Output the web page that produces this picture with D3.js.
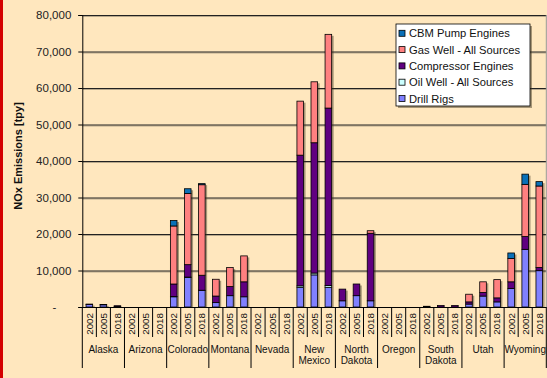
<!DOCTYPE html>
<html><head><meta charset="utf-8">
<script src="https://cdn.jsdelivr.net/npm/d3@7"></script>
<style>
html,body{margin:0;padding:0;background:#FFE7BE;}
svg{display:block;font-family:Arial,"Liberation Sans",sans-serif;}
</style></head>
<body>
<svg id="c" width="547" height="378"></svg>
<script>
const states = ["Alaska","Arizona","Colorado","Montana","Nevada","New Mexico","North Dakota","Oregon","South Dakota","Utah","Wyoming"];
const stateLines = [["Alaska"],["Arizona"],["Colorado"],["Montana"],["Nevada"],["New","Mexico"],["North","Dakota"],["Oregon"],["South","Dakota"],["Utah"],["Wyoming"]];
const years = ["2002","2005","2018"];
const yTicks = [0,10000,20000,30000,40000,50000,60000,70000,80000];
const seriesNames = ["Drill Rigs","Oil Well - All Sources","Compressor Engines","Gas Well - All Sources","CBM Pump Engines"];
const seriesColors = ["#8080FF","#CCFFFF","#600080","#FF8080","#0A70B8"];
// values in state-major order: each state 2002, 2005, 2018
const drillRigs  = [700,600,100, 0,0,0, 2800,8100,4500, 1200,3100,2800, 0,0,0, 5400,8800,5400, 1700,3100,1700, 0,0,0, 0,0,0, 800,3000,1400, 5100,15800,9950];
const oilWell    = [0,0,0, 0,0,0, 100,100,100, 0,0,0, 0,0,0, 400,500,500, 0,0,0, 0,0,0, 0,0,0, 0,0,0, 0,0,0];
const compressor = [100,100,250, 0,0,0, 3400,3400,4100, 1800,2500,4100, 0,0,0, 35800,35700,48600, 3200,3200,18500, 0,0,0, 200,400,400, 600,1000,1100, 1800,3500,900];
const gasWell    = [0,0,0, 0,0,0, 15900,19500,24800, 4600,5200,7100, 0,0,0, 14800,16700,20200, 0,0,700, 0,0,0, 0,0,0, 2100,2900,5000, 6400,14300,22300];
const cbmPump    = [0,0,0, 0,0,0, 1500,1300,300, 0,0,0, 0,0,0, 0,0,0, 0,0,0, 0,0,0, 0,0,0, 0,0,0, 1500,2800,1200];

const seriesValues = [drillRigs, oilWell, compressor, gasWell, cbmPump];
const keys = [];
states.forEach(s => years.forEach(y => keys.push(s + "|" + y)));
const rows = keys.map((k, i) => {
  const r = {key: k};
  seriesNames.forEach((n, j) => r[n] = seriesValues[j][i]);
  return r;
});

const svg = d3.select("#c");
const L = 82.3, R = 546.3, T = 15, B = 307;
svg.append("rect").attr("x",0).attr("y",0).attr("width",547).attr("height",378).attr("fill","#FFE7BE");
svg.append("rect").attr("x",0).attr("y",0).attr("width",3).attr("height",378).attr("fill","#D40000");

const x = d3.scaleBand().domain(keys).range([L, R]).paddingInner(0.53).paddingOuter(0.265);
const y = d3.scaleLinear().domain([0, 80000]).range([B, T]);

// gridlines
const grid = svg.append("g");
yTicks.filter(d => d > 0).forEach(d => {
  grid.append("line").attr("x1",L).attr("x2",R).attr("y1",y(d)+1.5).attr("y2",y(d)+1.5).attr("stroke","#b9a98c").attr("stroke-width",1);
  grid.append("line").attr("x1",L).attr("x2",R).attr("y1",y(d)+0.5).attr("y2",y(d)+0.5).attr("stroke","#222").attr("stroke-width",1);
});
svg.append("line").attr("x1",R).attr("x2",R).attr("y1",T).attr("y2",B).attr("stroke","#999").attr("stroke-width",1);

// bars
const stack = d3.stack().keys(seriesNames);
const stacked = stack(rows);
const bw = x.bandwidth();
const total = r => seriesNames.reduce((a,n)=>a+r[n],0);
// shadows
svg.append("g").selectAll("rect").data(rows.filter(r => total(r) > 0)).join("rect")
  .attr("x", r => x(r.key) + 2)
  .attr("y", r => y(total(r)) + 1.5)
  .attr("width", bw)
  .attr("height", r => B - y(total(r)) - 1.5)
  .attr("fill", "rgba(60,50,30,0.45)");
const barG = svg.append("g");
stacked.forEach((s, i) => {
  barG.append("g").selectAll("rect").data(s.filter(d => d[1] - d[0] > 0)).join("rect")
    .attr("x", d => x(d.data.key))
    .attr("y", d => y(d[1]))
    .attr("width", bw)
    .attr("height", d => y(d[0]) - y(d[1]))
    .attr("fill", seriesColors[i])
    .attr("stroke", "#000")
    .attr("stroke-width", 0.8);
});

// y axis
const yAxis = d3.axisLeft(y).tickValues(yTicks).tickSize(4).tickPadding(7)
  .tickFormat(d => d === 0 ? "-" : d3.format(",")(d));
const ya = svg.append("g").attr("transform", `translate(${L},0)`).call(yAxis);
ya.select(".domain").attr("stroke","#000");
ya.selectAll(".tick line").attr("stroke","#000");
ya.selectAll(".tick text").attr("font-size", 11.5).attr("fill","#222").attr("font-family","Arial,'Liberation Sans',sans-serif");
ya.selectAll(".tick text").filter(d => d === 0).attr("x", -26);

// x axis line
svg.append("line").attr("x1",L).attr("x2",R).attr("y1",B+0.5).attr("y2",B+0.5).attr("stroke","#000");
const step = x.step();
const xg = svg.append("g");
keys.forEach((k, i) => {
  const xb = L + i * step;
  const isState = i % 3 === 0;
  xg.append("line").attr("x1",xb).attr("x2",xb).attr("y1",B).attr("y2", isState ? 368 : 337).attr("stroke","#000");
  const cx = x(k) + bw / 2;
  xg.append("text").attr("transform", `translate(${cx + 3.4},313) rotate(-90)`)
    .attr("text-anchor","end").attr("font-size",9.8).attr("fill","#111").text(k.split("|")[1]);
});
xg.append("line").attr("x1",R).attr("x2",R).attr("y1",B).attr("y2",368).attr("stroke","#000");
states.forEach((s, i) => {
  const cx = L + (i * 3 + 1.5) * step;
  stateLines[i].forEach((ln, j) => {
    xg.append("text").attr("x", cx).attr("y", 352.5 + j * 11.8).attr("text-anchor","middle")
      .attr("font-size",10).attr("fill","#111").text(ln);
  });
});

// y title
svg.append("text").attr("transform","translate(22,156) rotate(-90)").attr("text-anchor","middle")
  .attr("font-size",11).attr("font-weight","bold").attr("fill","#111").text("NOx Emissions [tpy]");

// legend
const lg = svg.append("g");
const lx = 396, ly = 24, lw = 134, lh = 82;
lg.append("rect").attr("x",lx+2).attr("y",ly+2).attr("width",lw).attr("height",lh).attr("fill","rgba(60,50,30,0.45)");
lg.append("rect").attr("x",lx).attr("y",ly).attr("width",lw).attr("height",lh).attr("fill","#fff").attr("stroke","#000").attr("stroke-width",0.8);
const legendOrder = [4,3,2,1,0];
legendOrder.forEach((si, j) => {
  const cy = 33.3 + j * 16.3;
  lg.append("rect").attr("x",399).attr("y",cy-3).attr("width",6).attr("height",6)
    .attr("fill",seriesColors[si]).attr("stroke","#000").attr("stroke-width",0.8);
  lg.append("text").attr("x",409).attr("y",cy+4).attr("font-size",11.2).attr("fill","#111").text(seriesNames[si]);
});
</script>
</body></html>
